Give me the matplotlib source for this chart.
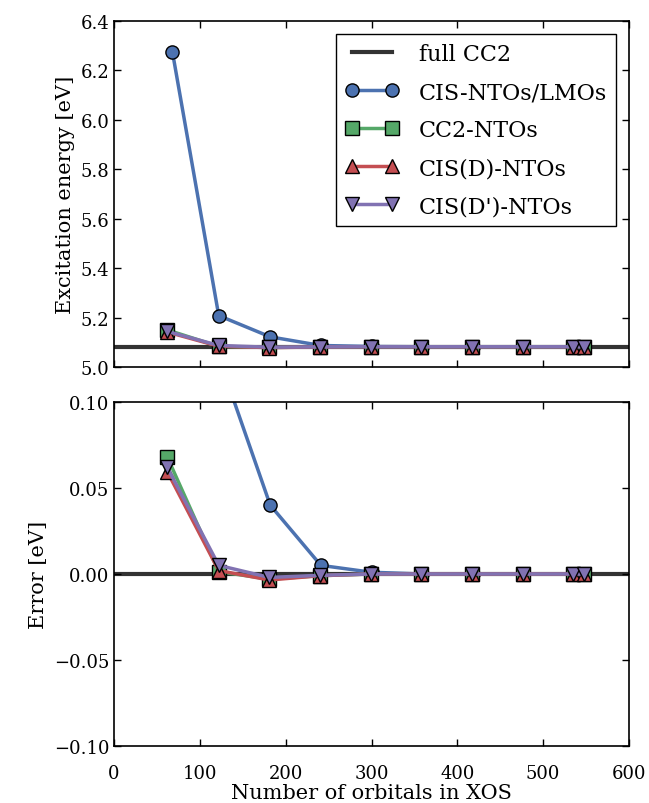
import matplotlib
matplotlib.use("Agg")
import matplotlib.pyplot as plt
import numpy as np

plt.rcParams['font.family'] = ['DejaVu Serif']

# number of orbitals in the XOS
n_orb = [62, 122, 181, 240, 299, 358, 417, 476, 535, 547]
n_orb_cis = [68, 122, 182, 241, 300, 359, 418, 477, 535, 547]

# excitation energies [eV]
e_full_cc2 = 5.082
e_cis_lmo = [6.276, 5.208, 5.122, 5.087, 5.083, 5.082, 5.082, 5.082, 5.082, 5.082]
e_cc2_nto = [5.150, 5.0833, 5.079, 5.081, 5.082, 5.082, 5.082, 5.082, 5.082, 5.082]
e_cisd_nto = [5.1415, 5.084, 5.0785, 5.081, 5.082, 5.082, 5.082, 5.082, 5.082, 5.082]
e_cisdp_nto = [5.144, 5.087, 5.080, 5.0812, 5.082, 5.082, 5.082, 5.082, 5.082, 5.082]

series = [
    ("CIS-NTOs/LMOs", n_orb_cis, e_cis_lmo, '#4C72B0', 'o'),
    ("CC2-NTOs", n_orb, e_cc2_nto, '#55A868', 's'),
    ("CIS(D)-NTOs", n_orb, e_cisd_nto, '#C44E52', '^'),
    ("CIS(D')-NTOs", n_orb, e_cisdp_nto, '#8172B2', 'v'),
]

fig = plt.figure(figsize=(6.49, 8.04), dpi=100)
ax1 = fig.add_axes([0.1757, 0.5423, 0.7935, 0.4303])
ax2 = fig.add_axes([0.1757, 0.0709, 0.7935, 0.4279])

# top: energies, bottom: error with respect to full CC2
for ax, ref in ((ax1, e_full_cc2), (ax2, 0.0)):
    ax.axhline(ref, color='#333333', linewidth=3, label='full CC2', zorder=1)
    for name, x, e, col, mk in series:
        y = np.array(e) - (0.0 if ax is ax1 else e_full_cc2)
        ax.plot(x, y, color=col, marker=mk, markersize=9.5, linewidth=2.5,
                markeredgecolor='black', markeredgewidth=1.0, label=name, zorder=2)
    ax.set_xlim(0, 600)
    ax.tick_params(direction='in', top=True, right=True, labelsize=13,
                   length=5, width=1)
    for sp in ax.spines.values():
        sp.set_linewidth(1.2)

ax1.set_ylim(5.0, 6.4)
ax1.set_yticks(np.arange(5.0, 6.41, 0.2))
ax1.set_yticklabels([f"{v:.1f}" for v in np.arange(5.0, 6.41, 0.2)])
ax1.set_xticks(range(0, 601, 100))
ax1.set_xticklabels([])
ax1.set_ylabel("Excitation energy [eV]", fontsize=15)

ax2.set_ylim(-0.1, 0.1)
ax2.set_yticks([-0.1, -0.05, 0.0, 0.05, 0.1])
ax2.set_yticklabels(["\u22120.10", "\u22120.05", "0.00", "0.05", "0.10"])
ax2.set_xticks(range(0, 601, 100))
ax2.tick_params(axis='x', pad=13)
ax2.set_ylabel("Error [eV]", fontsize=15)
ax2.set_xlabel("Number of orbitals in XOS", fontsize=15, labelpad=1)

leg = ax1.legend(loc='upper right', fontsize=16, fancybox=False, framealpha=1,
                 edgecolor='black', numpoints=2, handlelength=2.4,
                 labelspacing=0.72, borderaxespad=0.6, borderpad=0.4,
                 handletextpad=0.9)
leg.get_frame().set_linewidth(1.0)

fig.savefig("out.png", dpi=100)
